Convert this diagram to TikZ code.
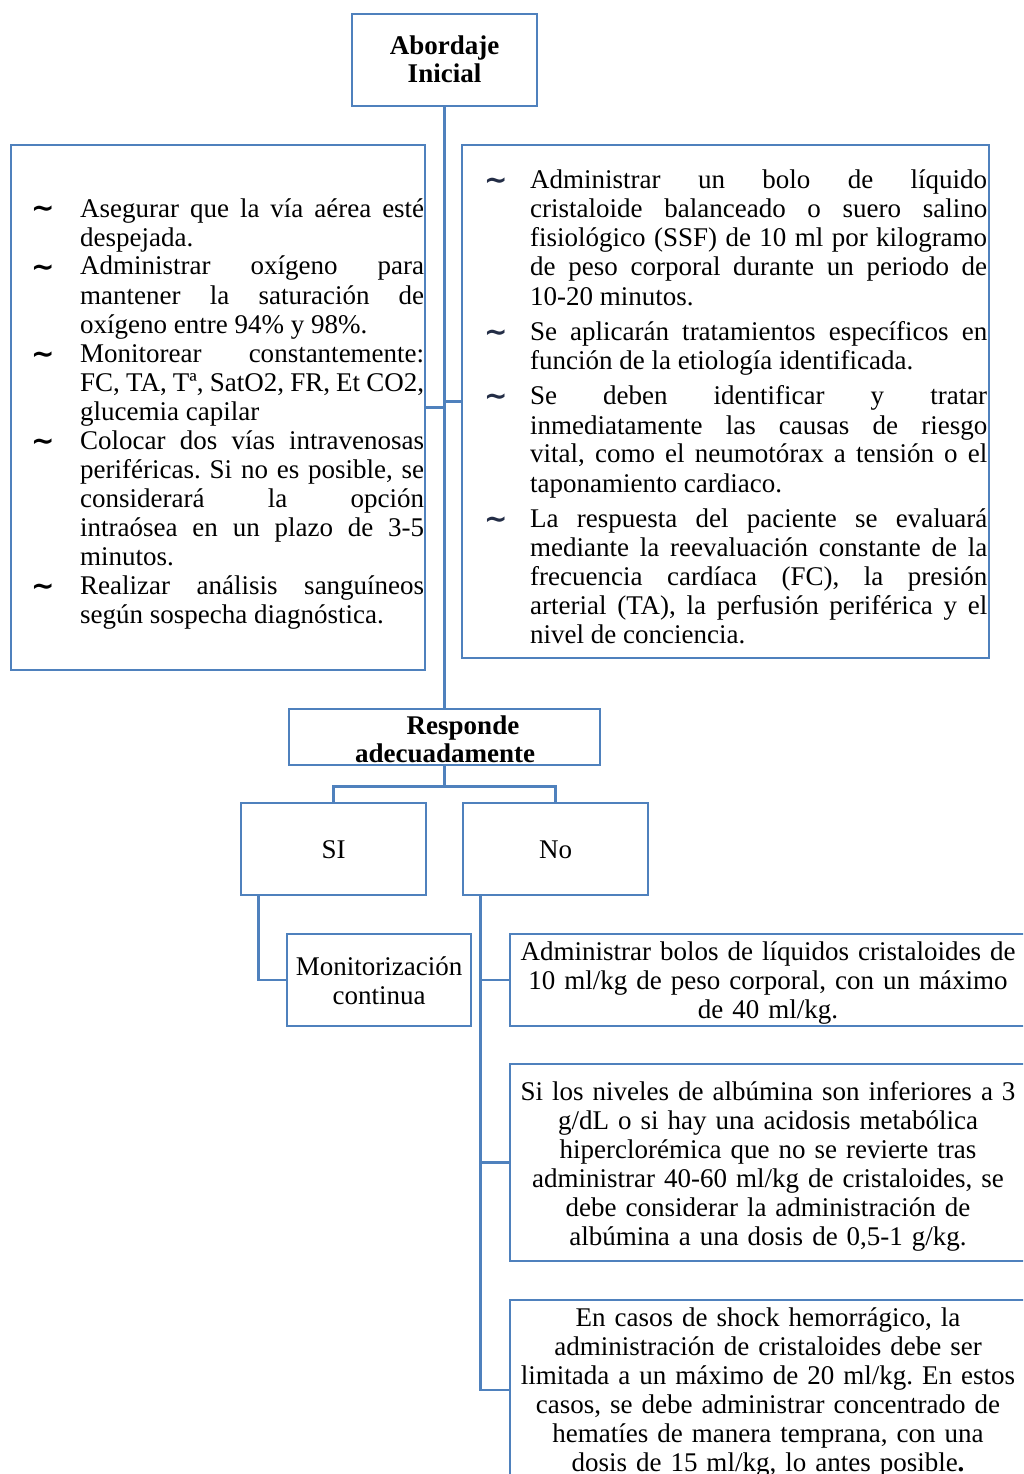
\documentclass[tikz,border=0pt]{standalone}
\usepackage{fontspec}
\setmainfont{Liberation Serif}
\newfontfamily\dejavu{DejaVu Sans}
\usetikzlibrary{calc}
\definecolor{bcol}{RGB}{79,129,189}
\definecolor{bulR}{RGB}{35,45,70}
\newcommand\bulL{\raisebox{-1pt}{\dejavu\bfseries\fontsize{28}{28}\selectfont\char"007E}}
\newcommand\bulR{\raisebox{-1pt}{\color{bulR}\dejavu\bfseries\fontsize{28}{28}\selectfont\char"007E}}
\newcommand\itmL[1]{\noindent\hangindent=49pt\hangafter=1\makebox[49pt][l]{\bulL}#1\par}
\newcommand\itmR[1]{\noindent\hangindent=46pt\hangafter=1\makebox[46pt][l]{\bulR}#1\par}
\frenchspacing
\begin{document}
\frenchspacing
\begin{tikzpicture}[x=1pt,y=-1pt,
  box/.style={draw=bcol,line width=2.6pt,rectangle,inner sep=0pt},
  conn/.style={draw=bcol,line width=2.6pt},
  txt/.style={inner sep=0pt,font=\fontsize{27}{29}\selectfont\frenchspacing},
  btxt/.style={inner sep=0pt,font=\fontsize{27}{28}\selectfont\bfseries}]
\useasboundingbox (0,0) rectangle (1023,1474);
\fill[white] (0,0) rectangle (1023,1474);
\clip (0,0) rectangle (1023,1474);

% boxes
\node[box,minimum width=185pt,minimum height=92pt] (Ab) at (444.5,60) {};
\node[box,minimum width=414pt,minimum height=525pt] (L) at (218,407.5) {};
\node[box,minimum width=527pt,minimum height=513pt] (Rt) at (725.5,401.5) {};
\node[box,minimum width=311pt,minimum height=56pt] (Re) at (444.5,737) {};
\node[box,minimum width=185pt,minimum height=92pt] (SI) at (333.5,849) {};
\node[box,minimum width=185pt,minimum height=92pt] (No) at (555.5,849) {};
\node[box,minimum width=184pt,minimum height=92pt] (Mon) at (379,980) {};
\node[box,minimum width=520pt,minimum height=92pt] (A) at (770,980) {};
\node[box,minimum width=520pt,minimum height=197pt] (B) at (770,1162.5) {};
\node[box,minimum width=520pt,minimum height=180pt] (C) at (770,1390) {};

% texts
\node[btxt,anchor=base,text width=180pt,align=center] (Abt) at (444.5,55) {Abordaje\\Inicial};
\node[btxt,anchor=base,text width=300pt,align=center] (Ret) at (445,734) {\hspace*{36pt}Responde\\adecuadamente};
\node[txt,anchor=base] (SIt) at (333.5,858) {SI};
\node[txt,anchor=base] (Not) at (555.5,858) {No};
\node[txt,anchor=base,text width=180pt,align=center] (Mont) at (379,975) {Monitorización\\continua};

\node[txt,anchor=base west,text width=393pt,align=justify] (Lt) at (31,217) {%
\itmL{Asegurar que la vía aérea esté\linebreak despejada.}%
\itmL{Administrar oxígeno para\linebreak mantener la saturación de\linebreak oxígeno entre 94\% y 98\%.}%
\itmL{Monitorear constantemente:\linebreak FC, TA, Tª, SatO2, FR, Et CO2,\linebreak glucemia capilar}%
\itmL{Colocar dos vías intravenosas\linebreak periféricas. Si no es posible, se\linebreak considerará la opción\linebreak intraósea en un plazo de 3-5\linebreak minutos.}%
\itmL{Realizar análisis sanguíneos\linebreak según sospecha diagnóstica.}};

\node[txt,anchor=base west,text width=503pt,align=justify] (Rtt) at (484,189) {%
\itmR{Administrar un bolo de líquido\linebreak cristaloide balanceado o suero salino\linebreak fisiológico (SSF) de 10 ml por kilogramo\linebreak de peso corporal durante un periodo de\linebreak 10-20 minutos.}\vspace{6.5pt}%
\itmR{Se aplicarán tratamientos específicos en\linebreak función de la etiología identificada.}\vspace{6.5pt}%
\itmR{Se deben identificar y tratar\linebreak inmediatamente las causas de riesgo\linebreak vital, como el neumotórax a tensión o el\linebreak taponamiento cardiaco.}\vspace{6.5pt}%
\itmR{La respuesta del paciente se evaluará\linebreak mediante la reevaluación constante de la\linebreak frecuencia cardíaca (FC), la presión\linebreak arterial (TA), la perfusión periférica y el\linebreak nivel de conciencia.}};

\node[txt,anchor=base,text width=530pt,align=center] (At) at (768,960) {Administrar bolos de líquidos cristaloides de\\10 ml/kg de peso corporal, con un máximo\\de 40 ml/kg.};
\node[txt,anchor=base,text width=530pt,align=center] (Bt) at (768,1100) {Si los niveles de albúmina son inferiores a 3\\g/dL o si hay una acidosis metabólica\\hiperclorémica que no se revierte tras\\administrar 40-60 ml/kg de cristaloides, se\\debe considerar la administración de\\albúmina a una dosis de 0,5-1 g/kg.};
\node[txt,anchor=base,text width=530pt,align=center] (Ct) at (768,1326) {En casos de shock hemorrágico, la\\administración de cristaloides debe ser\\limitada a un máximo de 20 ml/kg. En estos\\casos, se debe administrar concentrado de\\hematíes de manera temprana, con una\\dosis de 15 ml/kg, lo antes posible\textbf{.}};

% connectors
\draw[conn] (Ab.south) -- (Re.north);
\draw[conn] (L.east) -- (L.east -| Ab.south);
\draw[conn] (Rt.west) -- (Rt.west -| Ab.south);
\coordinate (split) at ($(Re.south)+(0,20)$);
\draw[conn] (Re.south) -- (split) -| (SI.north);
\draw[conn] (split) -| (No.north);
\coordinate (siT) at ($(SI.south west)+(19,0)$);
\draw[conn] (siT) |- (Mon.west);
\coordinate (noT) at ($(No.south west)+(19,0)$);
\draw[conn] (noT) |- (C.west);
\draw[conn] (A.west) -- (A.west -| noT);
\draw[conn] (B.west) -- (B.west -| noT);
\end{tikzpicture}
\end{document}
